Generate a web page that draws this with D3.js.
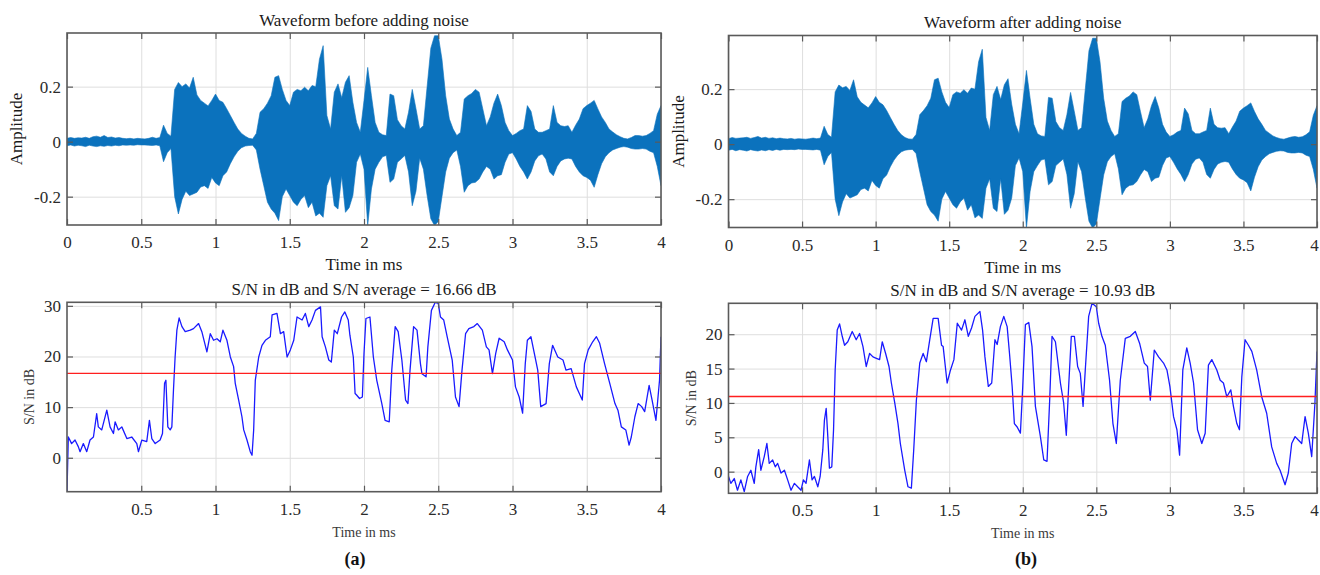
<!DOCTYPE html>
<html>
<head>
<meta charset="utf-8">
<script src="https://cdn.jsdelivr.net/npm/d3@7"></script>
<style>
  body { margin: 0; background: #fff; }
  svg text { font-family: "Liberation Serif", "Times New Roman", serif; }
</style>
</head>
<body>
<svg id="chart" width="1320" height="575"></svg>
<script>
'use strict';

// ---- data ----

// waveform envelope, sampled every 0.025 ms
const envTime = [
  0, 0.025, 0.05, 0.075, 0.1, 0.125, 0.15, 0.175,
  0.2, 0.225, 0.25, 0.275, 0.3, 0.325, 0.35, 0.375,
  0.4, 0.425, 0.45, 0.475, 0.5, 0.525, 0.55, 0.575,
  0.6, 0.625, 0.65, 0.675, 0.7, 0.725, 0.75, 0.775,
  0.8, 0.825, 0.85, 0.875, 0.9, 0.925, 0.95, 0.975,
  1, 1.025, 1.05, 1.075, 1.1, 1.125, 1.15, 1.175,
  1.2, 1.225, 1.25, 1.275, 1.3, 1.325, 1.35, 1.375,
  1.4, 1.425, 1.45, 1.475, 1.5, 1.525, 1.55, 1.575,
  1.6, 1.625, 1.65, 1.675, 1.7, 1.725, 1.75, 1.775,
  1.8, 1.825, 1.85, 1.875, 1.9, 1.925, 1.95, 1.975,
  2, 2.025, 2.05, 2.075, 2.1, 2.125, 2.15, 2.175,
  2.2, 2.225, 2.25, 2.275, 2.3, 2.325, 2.35, 2.375,
  2.4, 2.425, 2.45, 2.475, 2.5, 2.525, 2.55, 2.575,
  2.6, 2.625, 2.65, 2.675, 2.7, 2.725, 2.75, 2.775,
  2.8, 2.825, 2.85, 2.875, 2.9, 2.925, 2.95, 2.975,
  3, 3.025, 3.05, 3.075, 3.1, 3.125, 3.15, 3.175,
  3.2, 3.225, 3.25, 3.275, 3.3, 3.325, 3.35, 3.375,
  3.4, 3.425, 3.45, 3.475, 3.5, 3.525, 3.55, 3.575,
  3.6, 3.625, 3.65, 3.675, 3.7, 3.725, 3.75, 3.775,
  3.8, 3.825, 3.85, 3.875, 3.9, 3.925, 3.95, 3.975,
  4
];

const waveBeforeUpper = [
  0.012, 0.015, 0.012, 0.014, 0.013, 0.016, 0.012, 0.018,
  0.020, 0.016, 0.022, 0.015, 0.017, 0.013, 0.015, 0.012,
  0.011, 0.012, 0.010, 0.012, 0.011, 0.010, 0.012, 0.016,
  0.012, 0.015, 0.060, 0.030, 0.020, 0.190, 0.215, 0.200,
  0.210, 0.195, 0.234, 0.170, 0.150, 0.140, 0.130, 0.150,
  0.173, 0.150, 0.143, 0.120, 0.095, 0.070, 0.046, 0.030,
  0.020, 0.012, 0.010, 0.030, 0.107, 0.120, 0.140, 0.167,
  0.234, 0.240, 0.190, 0.150, 0.131, 0.180, 0.190, 0.185,
  0.198, 0.185, 0.204, 0.200, 0.300, 0.349, 0.095, 0.046,
  0.180, 0.210, 0.160, 0.216, 0.240, 0.143, 0.070, 0.034,
  0.150, 0.270, 0.167, 0.070, 0.034, 0.025, 0.022, 0.173,
  0.167, 0.080, 0.058, 0.046, 0.107, 0.190, 0.120, 0.046,
  0.058, 0.200, 0.340, 0.385, 0.385, 0.300, 0.167, 0.082,
  0.046, 0.022, 0.034, 0.155, 0.167, 0.175, 0.190, 0.180,
  0.119, 0.058, 0.090, 0.140, 0.173, 0.131, 0.070, 0.040,
  0.022, 0.030, 0.040, 0.046, 0.131, 0.110, 0.046, 0.034,
  0.034, 0.040, 0.046, 0.131, 0.070, 0.058, 0.055, 0.058,
  0.034, 0.060, 0.082, 0.120, 0.131, 0.140, 0.150, 0.119,
  0.090, 0.070, 0.046, 0.035, 0.025, 0.018, 0.012, 0.010,
  0.015, 0.022, 0.022, 0.020, 0.022, 0.030, 0.040, 0.100,
  0.131
];

const waveBeforeLower = [
  -0.015, -0.012, -0.016, -0.013, -0.015, -0.018, -0.013, -0.016,
  -0.018, -0.015, -0.017, -0.014, -0.016, -0.013, -0.015, -0.012,
  -0.013, -0.012, -0.013, -0.011, -0.012, -0.012, -0.013, -0.014,
  -0.012, -0.015, -0.073, -0.040, -0.025, -0.200, -0.263, -0.210,
  -0.180, -0.196, -0.190, -0.184, -0.165, -0.160, -0.170, -0.130,
  -0.150, -0.160, -0.124, -0.110, -0.080, -0.055, -0.035, -0.022,
  -0.016, -0.014, -0.013, -0.030, -0.100, -0.160, -0.220, -0.245,
  -0.260, -0.287, -0.200, -0.172, -0.196, -0.220, -0.233, -0.210,
  -0.196, -0.240, -0.220, -0.270, -0.260, -0.275, -0.160, -0.124,
  -0.233, -0.245, -0.124, -0.257, -0.240, -0.196, -0.075, -0.045,
  -0.100, -0.305, -0.172, -0.100, -0.075, -0.055, -0.050, -0.148,
  -0.136, -0.075, -0.063, -0.050, -0.110, -0.233, -0.180, -0.060,
  -0.100, -0.196, -0.280, -0.305, -0.290, -0.200, -0.110, -0.060,
  -0.040, -0.030, -0.090, -0.184, -0.160, -0.150, -0.148, -0.136,
  -0.110, -0.090, -0.100, -0.136, -0.124, -0.120, -0.075, -0.045,
  -0.040, -0.063, -0.090, -0.110, -0.136, -0.110, -0.070, -0.051,
  -0.045, -0.063, -0.110, -0.124, -0.090, -0.070, -0.063, -0.060,
  -0.063, -0.090, -0.110, -0.124, -0.130, -0.140, -0.166, -0.120,
  -0.080, -0.055, -0.040, -0.030, -0.025, -0.020, -0.018, -0.020,
  -0.025, -0.027, -0.027, -0.025, -0.027, -0.035, -0.040, -0.090,
  -0.160
];

const waveAfterUpper = [
  0.020, 0.024, 0.021, 0.022, 0.023, 0.025, 0.021, 0.024,
  0.028, 0.022, 0.025, 0.021, 0.023, 0.020, 0.022, 0.020,
  0.019, 0.021, 0.018, 0.020, 0.019, 0.018, 0.020, 0.022,
  0.020, 0.022, 0.065, 0.035, 0.025, 0.190, 0.215, 0.205,
  0.210, 0.195, 0.234, 0.172, 0.152, 0.142, 0.132, 0.150,
  0.173, 0.152, 0.143, 0.122, 0.097, 0.072, 0.050, 0.034,
  0.024, 0.019, 0.018, 0.035, 0.107, 0.122, 0.140, 0.167,
  0.234, 0.240, 0.190, 0.152, 0.133, 0.180, 0.190, 0.185,
  0.198, 0.185, 0.204, 0.200, 0.300, 0.345, 0.097, 0.050,
  0.180, 0.210, 0.162, 0.216, 0.238, 0.145, 0.072, 0.038,
  0.150, 0.268, 0.167, 0.072, 0.038, 0.030, 0.028, 0.170,
  0.167, 0.082, 0.060, 0.050, 0.107, 0.188, 0.120, 0.050,
  0.060, 0.200, 0.340, 0.385, 0.385, 0.300, 0.167, 0.084,
  0.050, 0.028, 0.038, 0.155, 0.167, 0.175, 0.190, 0.180,
  0.119, 0.060, 0.092, 0.140, 0.173, 0.131, 0.072, 0.044,
  0.028, 0.034, 0.044, 0.050, 0.131, 0.110, 0.050, 0.038,
  0.038, 0.044, 0.050, 0.131, 0.072, 0.060, 0.058, 0.060,
  0.038, 0.062, 0.084, 0.120, 0.131, 0.140, 0.150, 0.119,
  0.092, 0.072, 0.050, 0.040, 0.030, 0.024, 0.020, 0.018,
  0.022, 0.026, 0.028, 0.025, 0.027, 0.034, 0.045, 0.105,
  0.140
];

const waveAfterLower = [
  -0.022, -0.019, -0.024, -0.020, -0.022, -0.025, -0.020, -0.023,
  -0.025, -0.021, -0.024, -0.020, -0.023, -0.019, -0.022, -0.019,
  -0.020, -0.019, -0.020, -0.018, -0.019, -0.019, -0.020, -0.021,
  -0.019, -0.022, -0.075, -0.045, -0.030, -0.200, -0.260, -0.210,
  -0.180, -0.196, -0.190, -0.184, -0.165, -0.160, -0.170, -0.132,
  -0.150, -0.160, -0.126, -0.112, -0.082, -0.058, -0.040, -0.028,
  -0.022, -0.020, -0.019, -0.034, -0.100, -0.160, -0.220, -0.245,
  -0.258, -0.280, -0.200, -0.172, -0.196, -0.220, -0.233, -0.210,
  -0.196, -0.240, -0.220, -0.268, -0.258, -0.270, -0.160, -0.126,
  -0.233, -0.245, -0.126, -0.255, -0.240, -0.196, -0.078, -0.050,
  -0.100, -0.305, -0.172, -0.100, -0.078, -0.058, -0.054, -0.148,
  -0.136, -0.078, -0.066, -0.054, -0.110, -0.233, -0.180, -0.064,
  -0.100, -0.196, -0.280, -0.305, -0.290, -0.200, -0.112, -0.064,
  -0.045, -0.035, -0.090, -0.184, -0.160, -0.150, -0.148, -0.136,
  -0.112, -0.092, -0.100, -0.136, -0.124, -0.120, -0.078, -0.050,
  -0.045, -0.066, -0.090, -0.110, -0.136, -0.110, -0.072, -0.055,
  -0.050, -0.066, -0.110, -0.124, -0.092, -0.072, -0.066, -0.063,
  -0.066, -0.090, -0.110, -0.124, -0.130, -0.140, -0.170, -0.120,
  -0.082, -0.058, -0.045, -0.035, -0.030, -0.026, -0.024, -0.025,
  -0.030, -0.032, -0.032, -0.030, -0.032, -0.040, -0.045, -0.092,
  -0.160
];

// S/N in dB, clean signal
const snBeforeTime = [
  0, 0.009, 0.031, 0.054, 0.076, 0.088, 0.11, 0.133, 0.155, 0.178,
  0.2, 0.211, 0.234, 0.268, 0.29, 0.313, 0.324, 0.346, 0.369, 0.403,
  0.436, 0.47, 0.481, 0.504, 0.537, 0.555, 0.571, 0.594, 0.627, 0.643,
  0.657, 0.666, 0.679, 0.695, 0.706, 0.717, 0.728, 0.74, 0.755, 0.774,
  0.796, 0.83, 0.852, 0.886, 0.908, 0.942, 0.965, 0.987, 1.01, 1.032,
  1.05, 1.077, 1.1, 1.122, 1.133, 1.156, 1.178, 1.19, 1.212, 1.234,
  1.246, 1.257, 1.268, 1.291, 1.313, 1.336, 1.369, 1.381, 1.414, 1.437,
  1.459, 1.482, 1.504, 1.527, 1.549, 1.583, 1.605, 1.628, 1.65, 1.673,
  1.707, 1.718, 1.74, 1.763, 1.78, 1.8, 1.82, 1.849, 1.871, 1.894,
  1.905, 1.928, 1.94, 1.95, 1.97, 1.989, 2.0, 2.013, 2.04, 2.063,
  2.086, 2.12, 2.142, 2.17, 2.187, 2.21, 2.23, 2.255, 2.28, 2.296,
  2.31, 2.334, 2.357, 2.38, 2.39, 2.418, 2.43, 2.454, 2.48, 2.5,
  2.515, 2.537, 2.56, 2.594, 2.616, 2.64, 2.66, 2.684, 2.706, 2.74,
  2.763, 2.797, 2.824, 2.842, 2.865, 2.887, 2.91, 2.944, 2.966, 3.0,
  3.02, 3.045, 3.068, 3.086, 3.1, 3.124, 3.147, 3.17, 3.19, 3.226,
  3.248, 3.27, 3.305, 3.34, 3.36, 3.395, 3.43, 3.45, 3.47, 3.485,
  3.51, 3.54, 3.565, 3.587, 3.62, 3.655, 3.69, 3.71, 3.733, 3.763,
  3.785, 3.8, 3.824, 3.846, 3.87, 3.89, 3.92, 3.94, 3.966, 3.99,
  4.0
];
const snBeforeDb = [
  -6.7, 4.1, 2.8, 3.5, 2.2, 1.2, 2.8, 1.2, 3.5, 4.1,
  8.7, 6.1, 5.5, 9.4, 6.1, 4.8, 7.1, 5.5, 6.1, 3.8,
  4.1, 2.8, 1.2, 3.5, 3.2, 7.4, 3.8, 2.8, 3.5, 4.8,
  14.7, 15.3, 6.1, 5.5, 6.1, 13.4, 19.9, 25.2, 27.6, 25.9,
  24.9, 25.2, 25.5, 26.5, 24.9, 20.9, 24.5, 23.2, 23.5, 22.9,
  25.2, 23.2, 19.9, 18, 14.7, 11.4, 8.1, 5.5, 3.5, 1.2,
  0.5, 5.5, 15.3, 19.9, 22.2, 23.2, 23.9, 28.2, 28.5, 24.5,
  24.9, 19.9, 21.3, 23.2, 27.8, 27.2, 28.5, 25.9, 27.2, 29.1,
  29.8, 23.9, 21.9, 19.3, 18.9, 25.2, 24.5, 27.8, 28.8, 27.2,
  24.2, 19.9, 12.7, 12.4, 11.7, 12, 20.6, 27.5, 27.8, 19.9,
  15.3, 10.7, 7.4, 7.1, 17.3, 25.9, 24.9, 19.3, 11.4, 10.7,
  17.3, 25.9, 25.2, 18.6, 16.6, 16, 21.9, 29.1, 30.7, 30.5,
  27.8, 27.2, 23.9, 19.3, 12, 10.1, 17.3, 24.5, 25.5, 25.9,
  26.5, 25.2, 21.9, 21.3, 16.6, 20.6, 23.6, 22.9, 21.3, 19.3,
  14, 12, 8.8, 18.6, 23.2, 23.9, 20.6, 17.3, 10.1, 10.7,
  18.6, 22.2, 19.9, 19.3, 17.3, 17.6, 14, 12.7, 11.4, 18.6,
  21.3, 22.9, 23.9, 22.6, 18.6, 14.7, 10.7, 9.4, 6.1, 5.5,
  2.5, 4.1, 8.1, 10.7, 10.1, 9.1, 14.3, 11.4, 7.4, 15.3,
  23.9
];

// S/N in dB, noisy signal
const snAfterTime = [
  0, 0.016, 0.039, 0.061, 0.084, 0.107, 0.13, 0.152, 0.175, 0.186,
  0.205, 0.22, 0.243, 0.261, 0.277, 0.3, 0.318, 0.334, 0.357, 0.38,
  0.402, 0.425, 0.448, 0.47, 0.493, 0.509, 0.527, 0.55, 0.568, 0.584,
  0.607, 0.623, 0.641, 0.652, 0.664, 0.675, 0.686, 0.702, 0.714, 0.725,
  0.739, 0.755, 0.773, 0.789, 0.811, 0.841, 0.868, 0.891, 0.914, 0.936,
  0.959, 0.982, 1.005, 1.027, 1.045, 1.068, 1.091, 1.107, 1.13, 1.152,
  1.168, 1.198, 1.22, 1.243, 1.259, 1.277, 1.3, 1.323, 1.345, 1.368,
  1.391, 1.425, 1.448, 1.459, 1.486, 1.509, 1.532, 1.555, 1.584, 1.607,
  1.63, 1.652, 1.675, 1.709, 1.727, 1.743, 1.766, 1.789, 1.811, 1.826,
  1.848, 1.871, 1.894, 1.91, 1.928, 1.943, 1.962, 1.984, 2.0, 2.018,
  2.041, 2.063, 2.086, 2.12, 2.143, 2.165, 2.183, 2.199, 2.222, 2.256,
  2.278, 2.296, 2.312, 2.33, 2.351, 2.373, 2.391, 2.41, 2.425, 2.448,
  2.471, 2.5, 2.516, 2.538, 2.561, 2.59, 2.613, 2.636, 2.663, 2.697,
  2.731, 2.765, 2.794, 2.826, 2.848, 2.867, 2.894, 2.923, 2.957, 2.98,
  3.0, 3.025, 3.048, 3.066, 3.088, 3.115, 3.138, 3.161, 3.188, 3.217,
  3.24, 3.262, 3.285, 3.319, 3.342, 3.364, 3.387, 3.414, 3.432, 3.455,
  3.473, 3.489, 3.511, 3.534, 3.557, 3.59, 3.624, 3.658, 3.692, 3.726,
  3.749, 3.783, 3.805, 3.828, 3.851, 3.873, 3.896, 3.919, 3.941, 3.964,
  3.986, 4.0
];
const snAfterDb = [
  -0.7, -1.7, -1.0, -2.7, -1.2, -2.9, -0.7, 0.2, -1.7, 0.7,
  3.2, 0.2, 2.2, 4.1, 1.2, 1.7, 0.7, 1.2, -0.2, 0.2,
  -1.2, -2.7, -1.7, -2.2, -2.7, -1.2, -1.7, 1.7, -1.2, -0.7,
  -2.2, -0.7, 3.2, 7.5, 9.2, 5.1, 0.5, 0.7, 6.1, 14.8,
  20.6, 21.5, 19.7, 18.4, 18.9, 20.4, 19.2, 20.1, 18.2, 15.3,
  17.2, 16.7, 16.5, 16.3, 18.9, 17.2, 15.3, 12.9, 10, 7,
  4.1, 0.2, -2.2, -2.4, 3.2, 10.4, 15.8, 17.2, 16, 19.2,
  22.3, 22.3, 18.4, 18.2, 12.9, 14.8, 16.3, 21.6, 20.6, 22.1,
  19.7, 20.9, 22.6, 23.3, 20.6, 16.7, 12.4, 12.9, 19.2, 18.5,
  21.1, 22.6, 21.1, 17.2, 12.4, 7, 6.5, 5.6, 12.4, 21.4,
  21.7, 18.2, 9.5, 5.1, 1.7, 1.5, 10.4, 19.7, 18.9, 12.9,
  10, 5.3, 12.4, 19.7, 19.7, 15.3, 14.3, 9.5, 14.8, 22.6,
  24.5, 24, 21.6, 19.7, 18.4, 13.3, 7, 4.1, 13.3, 19.4,
  19.7, 20.4, 18.7, 15.8, 15.3, 10.4, 17.7, 16.7, 15.8, 14.8,
  12.4, 8, 6.1, 2.4, 14.8, 18, 15.8, 12.9, 6.1, 4.1,
  5.6, 15.5, 16.3, 14.8, 13.3, 12.9, 10.9, 11.9, 9.5, 7,
  6.1, 13.8, 19.2, 18.4, 17.5, 14.8, 10.9, 8.5, 3.6, 1.2,
  0.2, -1.9, -0.2, 4.1, 5.1, 4.6, 4.1, 8, 5.6, 2.2,
  10, 17.5
];

const snBeforeAverage = 16.66;
const snAfterAverage = 10.93;

const waveXTicks = [0, 0.5, 1, 1.5, 2, 2.5, 3, 3.5, 4];
const snXTicks = [0.5, 1, 1.5, 2, 2.5, 3, 3.5, 4];
const waveYTicks = [-0.2, 0, 0.2];
const snBeforeYTicks = [0, 10, 20, 30];
const snAfterYTicks = [0, 5, 10, 15, 20];

// ---- drawing ----

const svg = d3.select('#chart');
const gridColor = '#dedede';
const boxColor = '#5a5a5a';
const tickLen = 6;
const fmt = d => String(d);

const waveBefore = d3.zip(envTime, waveBeforeUpper, waveBeforeLower);
const waveAfter = d3.zip(envTime, waveAfterUpper, waveAfterLower);
const snBefore = d3.zip(snBeforeTime, snBeforeDb);
const snAfter = d3.zip(snAfterTime, snAfterDb);

function drawWave(data) {
    return function(g, x, y) {
        const area = d3.area()
                       .x(d => x(d[0]))
                       .y0(d => y(d[2]))
                       .y1(d => y(d[1]));
        g.append('path')
         .datum(data)
         .attr('d', area)
         .attr('fill', '#0b72bd')
         .attr('stroke', '#0b72bd')
         .attr('stroke-width', 0.6);
    };
}

function drawSn(data, average) {
    return function(g, x, y) {
        const line = d3.line().x(d => x(d[0])).y(d => y(d[1]));
        g.append('path')
         .datum(data)
         .attr('d', line)
         .attr('fill', 'none')
         .attr('stroke', '#1a1aff')
         .attr('stroke-width', 1.3)
         .attr('stroke-linejoin', 'round');
        g.append('line')
         .attr('x1', x.range()[0])
         .attr('x2', x.range()[1])
         .attr('y1', y(average))
         .attr('y2', y(average))
         .attr('stroke', '#ff1f1f')
         .attr('stroke-width', 1.4);
    };
}

function drawPanel(p) {
    const w = p.right - p.left,
          h = p.bottom - p.top;
    const x = d3.scaleLinear().domain(p.xDomain).range([0, w]);
    const y = d3.scaleLinear().domain(p.yDomain).range([h, 0]);
    const g = svg.append('g')
                 .attr('transform', 'translate(' + p.left + ',' + p.top + ')');

    g.append('rect').attr('width', w).attr('height', h).attr('fill', '#fff');

    // grid
    g.append('g')
     .attr('transform', 'translate(0,' + h + ')')
     .call(d3.axisBottom(x).tickValues(p.xTicks).tickSize(-h).tickFormat(''))
     .call(s => s.select('.domain').remove())
     .selectAll('line').attr('stroke', gridColor);
    g.append('g')
     .call(d3.axisLeft(y).tickValues(p.yTicks).tickSize(-w).tickFormat(''))
     .call(s => s.select('.domain').remove())
     .selectAll('line').attr('stroke', gridColor);

    g.append('clipPath').attr('id', 'clip-' + p.id)
     .append('rect').attr('width', w).attr('height', h);
    const plot = g.append('g').attr('clip-path', 'url(#clip-' + p.id + ')');
    p.draw(plot, x, y);

    // inward ticks on all four sides
    const bottomAxis = g.append('g').attr('transform', 'translate(0,' + h + ')')
         .call(d3.axisBottom(x).tickValues(p.xTicks).tickSizeInner(-tickLen)
                 .tickSizeOuter(0).tickPadding(11).tickFormat(fmt));
    const axes = [
        bottomAxis,
        g.append('g')
         .call(d3.axisTop(x).tickValues(p.xTicks).tickSizeInner(-tickLen)
                 .tickSizeOuter(0).tickFormat('')),
        g.append('g')
         .call(d3.axisLeft(y).tickValues(p.yTicks).tickSizeInner(-tickLen)
                 .tickSizeOuter(0).tickPadding(6).tickFormat(fmt)),
        g.append('g').attr('transform', 'translate(' + w + ',0)')
         .call(d3.axisRight(y).tickValues(p.yTicks).tickSizeInner(-tickLen)
                 .tickSizeOuter(0).tickFormat(''))
    ];
    axes.forEach(a => {
        a.select('.domain').remove();
        a.selectAll('line').attr('stroke', boxColor).attr('stroke-width', 1.2);
        a.selectAll('text')
         .attr('font-family', '"Liberation Serif", serif')
         .attr('font-size', 17)
         .attr('fill', '#2b2b2b');
    });
    // the last label sits at the page edge on the right-hand panels
    if (p.lastTickShift) {
        bottomAxis.selectAll('.tick text')
                  .filter(d => d === p.xDomain[1])
                  .attr('dx', p.lastTickShift);
    }

    g.append('rect')
     .attr('width', w).attr('height', h)
     .attr('fill', 'none')
     .attr('stroke', boxColor)
     .attr('stroke-width', 1.6);

    // labels
    svg.append('text')
       .attr('x', p.left + w / 2).attr('y', p.top - 7.5)
       .attr('text-anchor', 'middle')
       .attr('font-size', 17).attr('fill', '#1a1a1a')
       .text(p.title);
    svg.append('text')
       .attr('x', p.left + w / 2).attr('y', p.bottom + 45)
       .attr('text-anchor', 'middle')
       .attr('font-size', p.labelSize).attr('fill', p.labelColor)
       .text(p.xLabel);
    svg.append('text')
       .attr('transform', 'translate(' + (p.left - p.yLabelGap) + ',' + (p.top + h / 2) + ') rotate(-90)')
       .attr('text-anchor', 'middle')
       .attr('font-size', p.labelSize).attr('fill', p.labelColor)
       .text(p.yLabel);
}

drawPanel({
    id: 'wa', left: 67, right: 661, top: 33, bottom: 225,
    xDomain: [0, 4], yDomain: [-0.303, 0.395],
    xTicks: waveXTicks, yTicks: waveYTicks,
    title: 'Waveform before adding noise', xLabel: 'Time in ms', yLabel: 'Amplitude',
    labelSize: 17, labelColor: '#1a1a1a', yLabelGap: 45,
    draw: drawWave(waveBefore)
});
drawPanel({
    id: 'wb', left: 728.5, right: 1317, top: 35.5, bottom: 227.5,
    xDomain: [0, 4], yDomain: [-0.303, 0.395],
    xTicks: waveXTicks, yTicks: waveYTicks,
    title: 'Waveform after adding noise', xLabel: 'Time in ms', yLabel: 'Amplitude',
    labelSize: 17, labelColor: '#1a1a1a', yLabelGap: 45, lastTickShift: -3,
    draw: drawWave(waveAfter)
});
drawPanel({
    id: 'sa', left: 67, right: 661, top: 302.3, bottom: 491.7,
    xDomain: [0, 4], yDomain: [-6.7, 30.7],
    xTicks: snXTicks, yTicks: snBeforeYTicks,
    title: 'S/N in dB and S/N average = ' + snBeforeAverage.toFixed(2) + ' dB',
    xLabel: 'Time in ms', yLabel: 'S/N in dB',
    labelSize: 14, labelColor: '#3a3a3a', yLabelGap: 33,
    draw: drawSn(snBefore, snBeforeAverage)
});
drawPanel({
    id: 'sb', left: 728.5, right: 1317, top: 303.3, bottom: 493.3,
    xDomain: [0, 4], yDomain: [-3.15, 24.5],
    xTicks: snXTicks, yTicks: snAfterYTicks,
    title: 'S/N in dB and S/N average = ' + snAfterAverage.toFixed(2) + ' dB',
    xLabel: 'Time in ms', yLabel: 'S/N in dB',
    labelSize: 14, labelColor: '#3a3a3a', yLabelGap: 33, lastTickShift: -3,
    draw: drawSn(snAfter, snAfterAverage)
});

// sub-figure captions
[['(a)', 355], ['(b)', 1026]].forEach(c => {
    svg.append('text')
       .attr('x', c[1]).attr('y', 565)
       .attr('text-anchor', 'middle')
       .attr('font-family', '"DejaVu Sans", sans-serif')
       .attr('font-weight', 'bold')
       .attr('font-size', 18)
       .attr('fill', '#111')
       .text(c[0]);
});
</script>
</body>
</html>
